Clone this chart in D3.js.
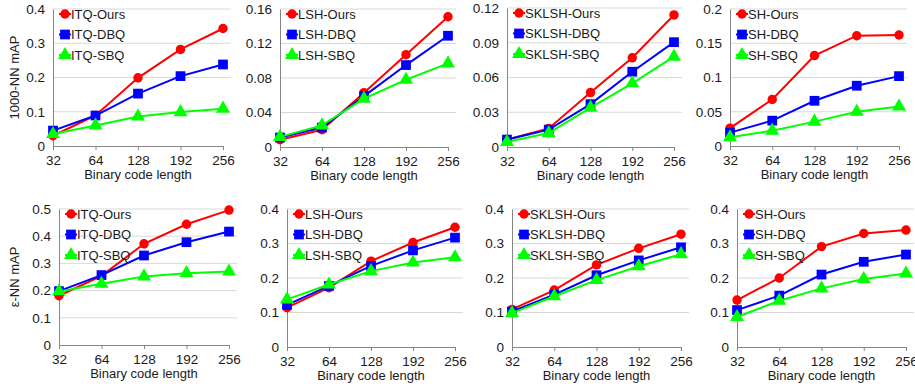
<!DOCTYPE html>
<html>
<head>
<meta charset="utf-8">
<script src="https://cdn.jsdelivr.net/npm/d3@7"></script>
<style>
  body { margin: 0; background: #fff; }
  text { font-family: "Liberation Sans", Arial, sans-serif; fill: #1a1a1a; }
</style>
</head>
<body>
<svg id="chart" width="915" height="386"></svg>
<script>
const codeLengths = ['32', '64', '128', '192', '256'];
const seriesNames = ['Ours', 'DBQ', 'SBQ'];
const hashers = ['ITQ', 'LSH', 'SKLSH', 'SH'];
const rowTitles = ['1000-NN mAP', '\u03b5-NN mAP'];

// 1000-NN mAP, rows are Ours, DBQ, SBQ
const knnITQ   = [[0.030, 0.089, 0.199, 0.282, 0.343], [0.045, 0.089, 0.153, 0.204, 0.238], [0.035, 0.060, 0.086, 0.099, 0.109]];
const knnLSH   = [[0.0085, 0.020, 0.063, 0.107, 0.151], [0.011, 0.0225, 0.059, 0.095, 0.129], [0.0117, 0.025, 0.056, 0.078, 0.097]];
const knnSKLSH = [[0.0064, 0.016, 0.047, 0.077, 0.114], [0.0064, 0.015, 0.037, 0.065, 0.0905], [0.0043, 0.012, 0.034, 0.055, 0.078]];
const knnSH    = [[0.026, 0.068, 0.132, 0.161, 0.162], [0.0195, 0.037, 0.066, 0.088, 0.102], [0.0127, 0.0224, 0.0356, 0.050, 0.0576]];

// epsilon-NN mAP
const epsITQ   = [[0.181, 0.254, 0.372, 0.444, 0.496], [0.198, 0.257, 0.329, 0.378, 0.417], [0.197, 0.225, 0.252, 0.264, 0.270]];
const epsLSH   = [[0.114, 0.172, 0.249, 0.303, 0.347], [0.122, 0.177, 0.235, 0.280, 0.317], [0.138, 0.181, 0.220, 0.245, 0.260]];
const epsSKLSH = [[0.109, 0.165, 0.238, 0.286, 0.327], [0.103, 0.152, 0.208, 0.251, 0.289], [0.098, 0.147, 0.194, 0.234, 0.269]];
const epsSH    = [[0.136, 0.200, 0.291, 0.329, 0.339], [0.107, 0.149, 0.210, 0.247, 0.268], [0.087, 0.134, 0.170, 0.197, 0.213]];

const knnTicks = [[0, 0.1, 0.2, 0.3, 0.4], [0, 0.04, 0.08, 0.12, 0.16], [0, 0.03, 0.06, 0.09, 0.12], [0, 0.05, 0.1, 0.15, 0.2]];
const epsTicks = [[0, 0.1, 0.2, 0.3, 0.4, 0.5], [0, 0.1, 0.2, 0.3, 0.4], [0, 0.1, 0.2, 0.3, 0.4], [0, 0.1, 0.2, 0.3, 0.4]];

const colors = ['#ff0000', '#0000ff', '#00ff00'];
const symbols = [d3.symbolCircle, d3.symbolSquare, d3.symbolTriangle];
const symbolSizes = [70, 95, 85];

// panel boxes: left axis x, last category x, top y, zero y
const boxes = [
  [53, 223, 9, 146], [280, 448, 9, 147], [507, 674, 8, 147], [730, 899, 9, 146],
  [59, 229, 209, 345], [287, 455, 209, 347], [512, 681, 209, 347], [737, 906, 209, 347]
];

const svg = d3.select('#chart');
const rows = [[knnITQ, knnLSH, knnSKLSH, knnSH], [epsITQ, epsLSH, epsSKLSH, epsSH]];
const rowTicks = [knnTicks, epsTicks];

rows.forEach((rowData, r) => {
  rowData.forEach((values, c) => {
    const [x0, x1, yTop, yZero] = boxes[r * 4 + c];
    const ticks = rowTicks[r][c];
    const x = d3.scalePoint().domain(codeLengths).range([x0, x1]);
    const y = d3.scaleLinear().domain([0, d3.max(ticks)]).range([yZero, yTop]);
    const g = svg.append('g');

    // gridlines
    g.selectAll('.grid').data(ticks.filter(t => t > 0)).enter()
      .append('line')
      .attr('x1', x0).attr('x2', x1 + 8)
      .attr('y1', d => y(d)).attr('y2', d => y(d))
      .attr('stroke', '#d9d9d9').attr('stroke-width', 1);

    // y axis
    const yAxis = d3.axisLeft(y).tickValues(ticks).tickSize(0).tickPadding(8)
      .tickFormat(d => d === 0 ? '0' : String(+d.toFixed(2)));
    const ya = g.append('g').attr('transform', `translate(${x0},0)`).call(yAxis);
    ya.select('.domain').attr('stroke', '#868686');
    ya.selectAll('text').attr('font-size', 13.5).attr('font-family', null).attr('fill', '#1a1a1a');

    // x axis
    const xAxis = d3.axisBottom(x).tickSizeInner(4).tickSizeOuter(0).tickPadding(5);
    const xa = g.append('g').attr('transform', `translate(0,${yZero})`).call(xAxis);
    xa.select('.domain').attr('stroke', '#868686');
    xa.selectAll('.tick line').attr('stroke', '#868686');
    xa.selectAll('text').attr('font-size', 13.5).attr('font-family', null).attr('fill', '#1a1a1a');

    g.append('text')
      .attr('x', (x0 + x1) / 2).attr('y', yZero + 32.5)
      .attr('text-anchor', 'middle').attr('font-size', 13)
      .text('Binary code length');

    if (c === 0) {
      g.append('text')
        .attr('transform', `translate(19,${(yTop + yZero) / 2}) rotate(-90)`)
        .attr('text-anchor', 'middle').attr('font-size', 13)
        .text(rowTitles[r]);
    }

    const line = d3.line().x((d, i) => x(codeLengths[i])).y(d => y(d));

    values.forEach((series, s) => {
      g.append('path')
        .attr('d', line(series))
        .attr('fill', 'none').attr('stroke', colors[s]).attr('stroke-width', 2);
      g.selectAll('.m' + s).data(series).enter()
        .append('path')
        .attr('transform', (d, i) => `translate(${x(codeLengths[i])},${y(d)})`)
        .attr('d', d3.symbol().type(symbols[s]).size(symbolSizes[s]))
        .attr('fill', colors[s]);
    });

    // legend
    const lg = g.append('g').attr('transform', `translate(${x0 + 6},${yTop + 5})`);
    seriesNames.forEach((name, s) => {
      const ly = s * 20.5;
      lg.append('line').attr('x1', 0).attr('x2', 12).attr('y1', ly).attr('y2', ly)
        .attr('stroke', colors[s]).attr('stroke-width', 2);
      lg.append('path').attr('transform', `translate(6,${ly})`)
        .attr('d', d3.symbol().type(symbols[s]).size(symbolSizes[s]))
        .attr('fill', colors[s]);
      lg.append('text').attr('x', 12).attr('y', ly).attr('dy', '0.35em')
        .attr('font-size', 13).text(hashers[c] + '-' + name);
    });
  });
});
</script>
</body>
</html>
